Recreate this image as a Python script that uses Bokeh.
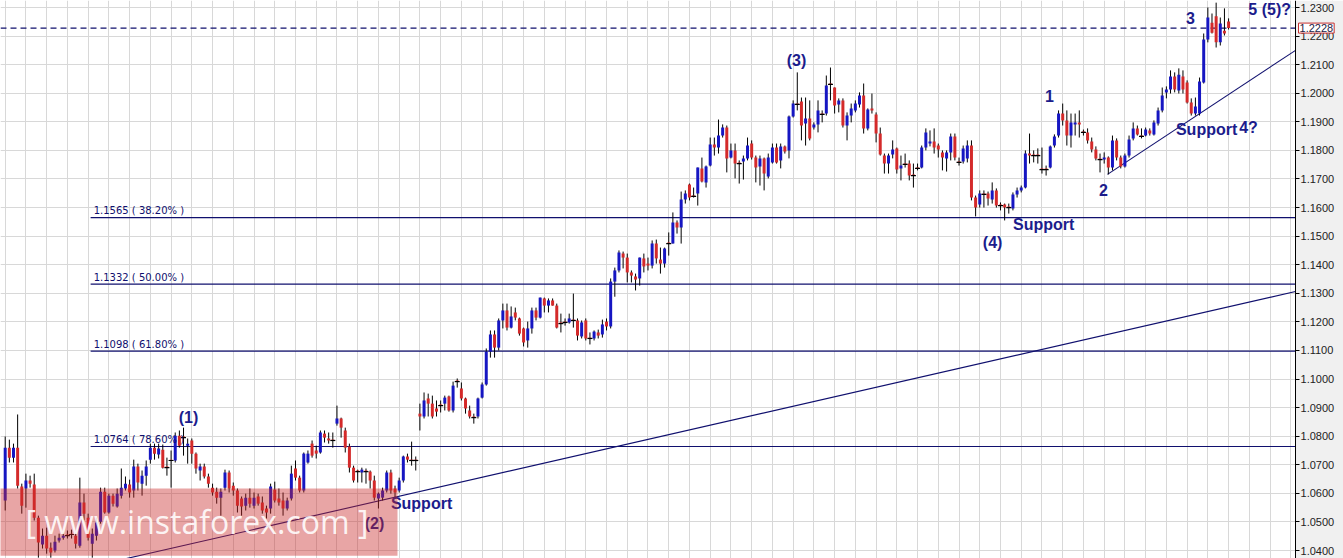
import numpy as np
from bokeh.plotting import figure
from bokeh.models import (Range1d, SingleIntervalTicker, PrintfTickFormatter, Label,
                          BoxAnnotation)
from bokeh.embed import file_html
from bokeh.resources import INLINE

# ---------------- data (candles) ----------------
opens = [
1.0575,1.0760,1.0725,1.0760,1.0624,1.0617,1.0645,1.0631,1.0515,1.0421,
1.0452,1.0410,1.0400,1.0435,1.0445,1.0456,1.0459,1.0452,1.0417,1.0568,
1.0515,1.0424,1.0452,1.0501,1.0606,1.0533,1.0592,1.0554,1.0592,1.0617,
1.0631,1.0610,1.0694,1.0634,1.0662,1.0718,1.0760,1.0736,1.0753,1.0694,
1.0718,1.0715,1.0802,1.0799,1.0767,1.0785,1.0739,1.0680,1.0694,1.0659,
1.0620,1.0606,1.0585,1.0620,1.0673,1.0627,1.0610,1.0582,1.0557,1.0585,
1.0557,1.0589,1.0568,1.0547,1.0547,1.0613,1.0582,1.0575,1.0547,1.0582,
1.0687,1.0655,1.0610,1.0708,1.0774,1.0750,1.0743,1.0809,1.0792,1.0788,
1.0844,1.0862,1.0820,1.0764,1.0690,1.0680,1.0673,1.0680,1.0676,1.0645,
1.0582,1.0585,1.0610,1.0673,1.0617,1.0610,1.0645,1.0729,1.0718,1.0718,
1.0879,1.0869,1.0932,1.0914,1.0897,1.0911,1.0914,1.0939,1.0890,1.0995,
1.0967,1.0932,1.0890,1.0869,1.0869,1.0935,1.0981,1.1096,1.1156,1.1110,
1.1205,1.1240,1.1180,1.1233,1.1212,1.1177,1.1135,1.1177,1.1240,1.1215,
1.1282,1.1257,1.1275,1.1257,1.1198,1.1201,1.1198,1.1208,1.1205,1.1149,
1.1205,1.1145,1.1142,1.1163,1.1156,1.1201,1.1184,1.1341,1.1380,1.1439,
1.1425,1.1373,1.1359,1.1352,1.1422,1.1404,1.1397,1.1474,1.1418,1.1404,
1.1478,1.1474,1.1548,1.1530,1.1628,1.1681,1.1642,1.1649,1.1737,1.1688,
1.1747,1.1821,1.1810,1.1852,1.1880,1.1775,1.1800,1.1758,1.1761,1.1772,
1.1824,1.1775,1.1744,1.1772,1.1709,1.1758,1.1810,1.1765,1.1814,1.1800,
1.1919,1.1964,1.1971,1.1894,1.1912,1.1880,1.1891,1.1929,1.1929,1.2034,
1.2020,1.1961,1.1975,1.1887,1.1922,1.1940,1.1961,1.1992,1.1877,1.1947,
1.1926,1.1859,1.1782,1.1754,1.1786,1.1807,1.1737,1.1754,1.1754,1.1716,
1.1740,1.1740,1.1810,1.1824,1.1831,1.1817,1.1793,1.1772,1.1793,1.1849,
1.1761,1.1761,1.1772,1.1817,1.1635,1.1611,1.1649,1.1649,1.1628,1.1660,
1.1611,1.1611,1.1604,1.1597,1.1646,1.1660,1.1670,1.1789,1.1786,1.1786,
1.1737,1.1737,1.1740,1.1817,1.1852,1.1929,1.1905,1.1852,1.1891,1.1898,
1.1866,1.1863,1.1831,1.1803,1.1772,1.1768,1.1775,1.1740,1.1835,1.1775,
1.1744,1.1782,1.1842,1.1877,1.1852,1.1852,1.1870,1.1856,1.1894,1.1940,
1.2003,1.2013,1.2059,1.2010,1.2059,1.2038,1.1968,1.1929,1.1929,1.2038,
1.2188,1.2247,1.2269,1.2178,1.2219,1.2251]

highs = [
1.0799,1.0788,1.0774,1.0876,1.0634,1.0669,1.0662,1.0669,1.0522,1.0477,
1.0480,1.0428,1.0452,1.0459,1.0463,1.0470,1.0473,1.0463,1.0655,1.0599,
1.0529,1.0477,1.0515,1.0620,1.0620,1.0599,1.0599,1.0617,1.0687,1.0659,
1.0648,1.0718,1.0704,1.0680,1.0715,1.0774,1.0774,1.0774,1.0771,1.0725,
1.0750,1.0813,1.0820,1.0830,1.0792,1.0792,1.0743,1.0704,1.0704,1.0669,
1.0634,1.0620,1.0617,1.0683,1.0680,1.0638,1.0617,1.0589,1.0599,1.0617,
1.0603,1.0599,1.0589,1.0557,1.0634,1.0641,1.0617,1.0603,1.0585,1.0697,
1.0715,1.0662,1.0743,1.0750,1.0785,1.0767,1.0820,1.0820,1.0813,1.0813,
1.0907,1.0865,1.0830,1.0774,1.0697,1.0683,1.0690,1.0687,1.0680,1.0662,
1.0603,1.0620,1.0680,1.0683,1.0627,1.0655,1.0732,1.0739,1.0781,1.0729,
1.0914,1.0953,1.0949,1.0942,1.0925,1.0925,1.0942,1.0942,1.0991,1.1002,
1.0988,1.0935,1.0907,1.0879,1.0935,1.0988,1.1107,1.1170,1.1170,1.1212,
1.1264,1.1264,1.1254,1.1250,1.1215,1.1180,1.1201,1.1250,1.1250,1.1285,
1.1285,1.1282,1.1282,1.1264,1.1229,1.1212,1.1229,1.1299,1.1212,1.1205,
1.1212,1.1163,1.1170,1.1173,1.1208,1.1212,1.1352,1.1390,1.1450,1.1446,
1.1439,1.1380,1.1369,1.1425,1.1439,1.1425,1.1485,1.1488,1.1460,1.1460,
1.1513,1.1583,1.1555,1.1656,1.1660,1.1684,1.1670,1.1740,1.1775,1.1747,
1.1845,1.1845,1.1908,1.1891,1.1887,1.1824,1.1824,1.1765,1.1782,1.1845,
1.1835,1.1782,1.1782,1.1775,1.1789,1.1824,1.1824,1.1824,1.1817,1.1922,
1.1975,1.2073,1.1985,1.1985,1.1975,1.1898,1.1975,1.1940,1.2062,1.2090,
1.2020,1.1982,1.1982,1.1933,1.1964,1.1975,1.2003,1.2034,1.1947,1.1999,
1.1933,1.1880,1.1789,1.1789,1.1835,1.1810,1.1782,1.1789,1.1765,1.1754,
1.1754,1.1817,1.1877,1.1870,1.1877,1.1824,1.1800,1.1800,1.1859,1.1859,
1.1775,1.1817,1.1835,1.1835,1.1642,1.1660,1.1660,1.1656,1.1688,1.1667,
1.1618,1.1614,1.1614,1.1653,1.1670,1.1677,1.1800,1.1859,1.1800,1.1807,
1.1810,1.1747,1.1817,1.1856,1.1940,1.1964,1.1940,1.1929,1.1929,1.1940,
1.1873,1.1877,1.1845,1.1814,1.1789,1.1793,1.1779,1.1852,1.1842,1.1782,
1.1789,1.1852,1.1898,1.1887,1.1877,1.1880,1.1877,1.1905,1.1950,1.2020,
1.2024,1.2080,1.2073,1.2087,1.2080,1.2045,1.1982,1.1985,1.2055,1.2209,
1.2300,1.2279,1.2317,1.2265,1.2297,1.2262]

lows = [
1.0540,1.0708,1.0708,1.0617,1.0529,1.0550,1.0620,1.0505,1.0375,1.0407,
1.0389,1.0375,1.0393,1.0428,1.0438,1.0442,1.0442,1.0407,1.0410,1.0505,
1.0435,1.0375,1.0435,1.0494,1.0529,1.0529,1.0554,1.0550,1.0582,1.0610,
1.0585,1.0585,1.0610,1.0592,1.0627,1.0704,1.0718,1.0722,1.0687,1.0662,
1.0620,1.0708,1.0760,1.0732,1.0704,1.0704,1.0669,1.0645,1.0652,1.0620,
1.0592,1.0564,1.0522,1.0610,1.0603,1.0592,1.0533,1.0522,1.0540,1.0550,
1.0547,1.0557,1.0529,1.0512,1.0529,1.0568,1.0557,1.0522,1.0540,1.0575,
1.0645,1.0603,1.0603,1.0704,1.0725,1.0722,1.0739,1.0778,1.0774,1.0760,
1.0837,1.0795,1.0743,1.0673,1.0638,1.0638,1.0638,1.0634,1.0617,1.0575,
1.0547,1.0575,1.0603,1.0599,1.0582,1.0603,1.0638,1.0708,1.0697,1.0680,
1.0820,1.0862,1.0869,1.0862,1.0869,1.0883,1.0890,1.0886,1.0883,1.0970,
1.0925,1.0879,1.0862,1.0844,1.0862,1.0932,1.0977,1.1075,1.1075,1.1100,
1.1177,1.1170,1.1177,1.1205,1.1152,1.1114,1.1110,1.1159,1.1205,1.1212,
1.1233,1.1233,1.1257,1.1177,1.1163,1.1187,1.1194,1.1180,1.1135,1.1142,
1.1135,1.1121,1.1135,1.1142,1.1145,1.1170,1.1177,1.1288,1.1373,1.1387,
1.1338,1.1338,1.1310,1.1327,1.1373,1.1380,1.1387,1.1404,1.1369,1.1390,
1.1432,1.1474,1.1509,1.1474,1.1614,1.1625,1.1635,1.1607,1.1688,1.1670,
1.1744,1.1782,1.1789,1.1845,1.1723,1.1772,1.1702,1.1684,1.1698,1.1765,
1.1768,1.1688,1.1677,1.1660,1.1702,1.1754,1.1754,1.1737,1.1789,1.1772,
1.1915,1.1940,1.1835,1.1817,1.1835,1.1873,1.1863,1.1898,1.1922,1.1975,
1.1929,1.1933,1.1880,1.1835,1.1898,1.1933,1.1950,1.1859,1.1870,1.1929,
1.1828,1.1782,1.1719,1.1719,1.1772,1.1719,1.1695,1.1740,1.1695,1.1670,
1.1730,1.1737,1.1800,1.1814,1.1789,1.1775,1.1730,1.1726,1.1765,1.1765,
1.1747,1.1754,1.1758,1.1625,1.1569,1.1600,1.1600,1.1607,1.1614,1.1600,
1.1590,1.1555,1.1579,1.1590,1.1635,1.1653,1.1667,1.1754,1.1758,1.1754,
1.1719,1.1712,1.1737,1.1810,1.1845,1.1887,1.1817,1.1810,1.1852,1.1845,
1.1852,1.1824,1.1793,1.1765,1.1723,1.1754,1.1716,1.1730,1.1765,1.1737,
1.1740,1.1775,1.1835,1.1852,1.1842,1.1849,1.1852,1.1852,1.1887,1.1933,
1.1982,1.1999,1.2003,1.1999,1.1999,1.1964,1.1922,1.1922,1.1922,1.2034,
1.2178,1.2209,1.2160,1.2167,1.2202,1.2223]

closes = [
1.0760,1.0725,1.0760,1.0627,1.0557,1.0645,1.0634,1.0515,1.0428,1.0452,
1.0407,1.0393,1.0431,1.0445,1.0452,1.0452,1.0456,1.0424,1.0568,1.0529,
1.0445,1.0459,1.0498,1.0606,1.0533,1.0592,1.0564,1.0599,1.0620,1.0634,
1.0603,1.0694,1.0638,1.0662,1.0694,1.0760,1.0739,1.0757,1.0690,1.0690,
1.0715,1.0802,1.0767,1.0795,1.0774,1.0739,1.0687,1.0694,1.0659,1.0634,
1.0603,1.0585,1.0606,1.0673,1.0617,1.0610,1.0557,1.0554,1.0585,1.0564,
1.0585,1.0564,1.0540,1.0533,1.0624,1.0575,1.0568,1.0547,1.0575,1.0669,
1.0655,1.0610,1.0739,1.0739,1.0732,1.0739,1.0813,1.0795,1.0785,1.0785,
1.0862,1.0830,1.0760,1.0690,1.0645,1.0676,1.0683,1.0676,1.0645,1.0585,
1.0599,1.0610,1.0673,1.0610,1.0603,1.0645,1.0729,1.0718,1.0715,1.0715,
1.0869,1.0925,1.0914,1.0869,1.0886,1.0907,1.0935,1.0890,1.0977,1.0991,
1.0932,1.0897,1.0869,1.0865,1.0932,1.0981,1.1096,1.1156,1.1110,1.1205,
1.1240,1.1180,1.1219,1.1215,1.1159,1.1128,1.1177,1.1240,1.1215,1.1285,
1.1257,1.1275,1.1257,1.1180,1.1194,1.1198,1.1212,1.1205,1.1152,1.1198,
1.1142,1.1142,1.1166,1.1152,1.1191,1.1184,1.1341,1.1380,1.1443,1.1425,
1.1373,1.1362,1.1348,1.1425,1.1394,1.1397,1.1474,1.1422,1.1404,1.1457,
1.1474,1.1548,1.1530,1.1628,1.1649,1.1635,1.1639,1.1740,1.1691,1.1744,
1.1821,1.1810,1.1852,1.1880,1.1772,1.1800,1.1754,1.1754,1.1772,1.1817,
1.1775,1.1740,1.1772,1.1719,1.1775,1.1810,1.1758,1.1814,1.1796,1.1919,
1.1964,1.1961,1.1887,1.1912,1.1842,1.1891,1.1940,1.1926,1.2027,1.2031,
1.1957,1.1975,1.1887,1.1922,1.1947,1.1964,1.1992,1.1877,1.1943,1.1940,
1.1859,1.1786,1.1754,1.1782,1.1803,1.1733,1.1747,1.1751,1.1712,1.1712,
1.1737,1.1810,1.1863,1.1831,1.1810,1.1803,1.1775,1.1793,1.1849,1.1775,
1.1758,1.1807,1.1817,1.1635,1.1600,1.1649,1.1646,1.1632,1.1660,1.1607,
1.1607,1.1600,1.1600,1.1646,1.1660,1.1670,1.1789,1.1782,1.1782,1.1782,
1.1733,1.1733,1.1814,1.1849,1.1929,1.1905,1.1852,1.1898,1.1898,1.1891,
1.1863,1.1835,1.1803,1.1772,1.1768,1.1775,1.1740,1.1835,1.1775,1.1744,
1.1782,1.1838,1.1877,1.1856,1.1849,1.1873,1.1859,1.1898,1.1940,1.1992,
1.2013,1.2059,1.2013,1.2065,1.2013,1.1968,1.1929,1.1954,1.2041,1.2188,
1.2265,1.2212,1.2178,1.2244,1.2209,1.2228]

fib_levels = [1.1565, 1.1332, 1.1098, 1.0764]
fib_labels = ["1.1565 ( 38.20% )", "1.1332 ( 50.00% )", "1.1098 ( 61.80% )", "1.0764 ( 78.60% )"]
fib_start = 20.6          # candle index where the retracement lines begin
last_price = 1.2228

# trend lines: two anchor points each (candle index, price)
trend_long = ((90.5, 1.0575), (311.1, 1.1306))
trend_short = ((265.8, 1.1716), (289.3, 1.1941))

wave_texts = ["(1)", "(2)", "Support", "(3)", "(4)", "Support", "1", "2", "Support", "4?", "3", "5 (5)?"]
wave_x = [44.2, 89.05, 100.4, 190.8, 238.1, 250.4, 251.8, 264.8, 289.7, 299.8, 285.8, 304.9]
wave_y = [1.0865, 1.0494, 1.0564, 1.2114, 1.1478, 1.1541, 1.1989, 1.1660, 1.1873, 1.1880, 1.2265, 1.2293]

# ---------------- figure ----------------
BLUE = "#1616c2"
RED = "#d42a2a"
NAVY = "#10106e"
TXT = "#1c1c8c"

o = np.array(opens); h = np.array(highs); l = np.array(lows); c = np.array(closes)
n = len(o)
idx = np.arange(n)
top = np.maximum(o, c)
bot = np.minimum(o, c)
hi = np.maximum(h, top)
lo = np.minimum(l, bot)
up = c >= o
doji = np.abs(o - c) < 0.0005

X0, X1 = -1.133, 322.71     # visible candle-index span (frame spans the whole canvas)
AXIS_X = 311.14             # the price scale sits here, right of the last candle
xr = Range1d(X0, X1)
p = figure(width=1343, height=558,
           x_range=xr, y_range=Range1d(1.03721, 1.23245),
           output_backend="svg", toolbar_location=None,
           y_axis_location="right", x_axis_location=None,
           min_border_left=0, min_border_top=0, min_border_bottom=0, min_border_right=0)
p.background_fill_color = "white"
p.border_fill_color = "white"
p.outline_line_color = None

ax = p.yaxis[0]
ax.fixed_location = AXIS_X
ax.ticker = SingleIntervalTicker(interval=0.01, num_minor_ticks=0)
ax.formatter = PrintfTickFormatter(format="%.4f")
ax.axis_line_color = "black"
ax.major_tick_line_color = "black"
ax.major_tick_out = 4
ax.major_tick_in = 0
ax.minor_tick_line_color = None
ax.major_label_standoff = 1
ax.major_label_text_font = "Liberation Sans"
ax.major_label_text_font_size = "11px"
ax.major_label_text_color = "#222222"

p.xgrid.ticker = SingleIntervalTicker(interval=5)
p.ygrid.ticker = SingleIntervalTicker(interval=0.01)
for g in (p.xgrid, p.ygrid):
    g.grid_line_color = "#d8d8d8"
    g.grid_line_width = 1

# grey price-scale strip (drawn over the grid, under everything else)
p.add_layout(BoxAnnotation(left=AXIS_X, fill_color="#f0f0f0", fill_alpha=1.0,
                           line_color=None, level="underlay"))

# fib retracement lines
p.segment(x0=[fib_start] * 4, y0=fib_levels, x1=[AXIS_X] * 4, y1=fib_levels,
          line_color=NAVY, line_width=1.2)

# trend lines, extended to the price scale
def line_at(tl, x):
    (xa, ya), (xb, yb) = tl
    return ya + (yb - ya) * (x - xa) / (xb - xa)

tl_x0 = [25.0, trend_short[0][0]]
tl_y0 = [line_at(trend_long, 25.0), trend_short[0][1]]
tl_y1 = [line_at(trend_long, AXIS_X), line_at(trend_short, AXIS_X)]
p.segment(x0=tl_x0, y0=tl_y0, x1=[AXIS_X, AXIS_X], y1=tl_y1, line_color=NAVY, line_width=1.1)

# current price dashed line
p.segment(x0=[X0], y0=[last_price], x1=[AXIS_X], y1=[last_price], line_color=NAVY,
          line_dash="6 4", line_width=1.2)

# candles
p.segment(x0=idx, y0=lo, x1=idx, y1=hi, line_color="black", line_width=1)
p.vbar(x=idx, width=0.72, top=top, bottom=bot,
       fill_color=[BLUE if u else RED for u in up], line_color=None)
p.scatter(x=idx[doji], y=c[doji], marker="dash", size=5, line_color="black", line_width=1.2)

# fib labels
for lvl, txt in zip(fib_levels, fib_labels):
    p.add_layout(Label(x=fib_start, y=lvl, text=txt, x_offset=3, y_offset=7,
                       text_font="DejaVu Sans", text_font_size="10px",
                       text_color=NAVY, text_baseline="alphabetic", text_align="left"))

# wave labels
for t, xx, yy in zip(wave_texts, wave_x, wave_y):
    p.add_layout(Label(x=xx, y=yy, text=t, text_font="Liberation Sans",
                       text_font_size="16px", text_font_style="bold",
                       text_color=TXT, text_align="center", text_baseline="middle"))

# watermark
p.add_layout(BoxAnnotation(left=-3, right=94.6, bottom=1.0382, top=1.0617,
                           fill_color="#c82828", fill_alpha=0.42, line_color=None))
p.add_layout(Label(x=4.9, y=1.0501, text="[ www.instaforex.com ]", text_font="Open Sans",
                   text_font_size="32px", text_color="white", text_alpha=0.88,
                   text_align="left", text_baseline="middle"))

# price tag on the price scale
p.add_layout(Label(x=AXIS_X, y=last_price, text=f"{last_price:.4f}", x_offset=3,
                   text_font="Liberation Sans", text_font_size="11px", text_color="#222244",
                   text_align="left", text_baseline="middle", border_line_color="#c43030",
                   background_fill_color="white", padding=1))

open("out.html", "w").write(file_html(p, INLINE))
